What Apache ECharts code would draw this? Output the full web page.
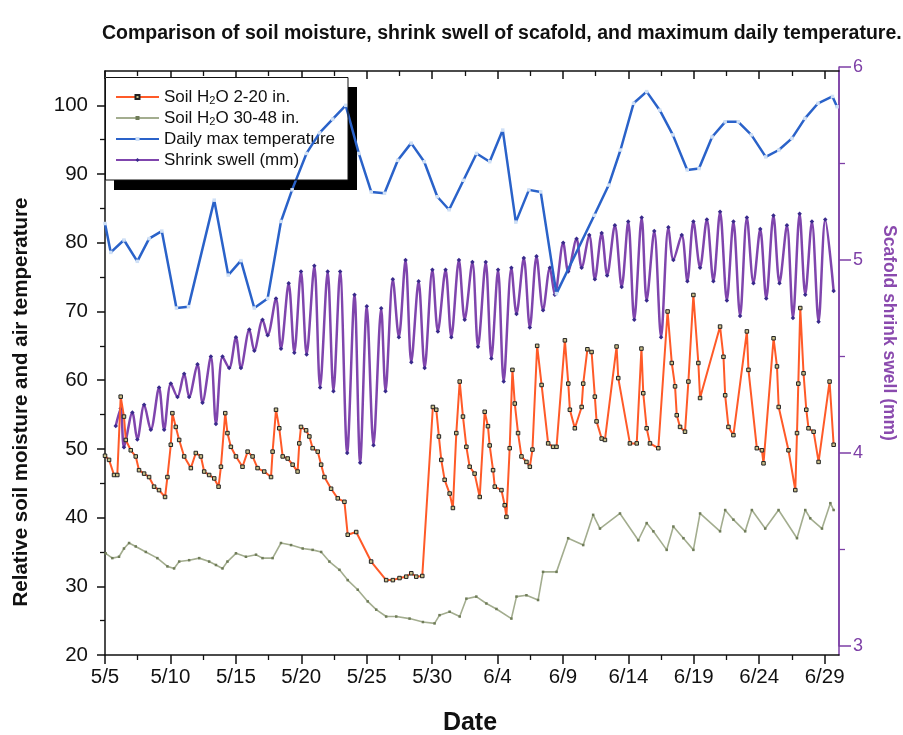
<!DOCTYPE html>
<html>
<head>
<meta charset="utf-8">
<script src="https://cdn.jsdelivr.net/npm/echarts@6/dist/echarts.min.js"></script>
<style>html,body{margin:0;padding:0;background:#fff;}#c{width:903px;height:735px;}</style>
</head>
<body>
<div id="c"></div>
<script>
// ---- tick labels ----
const xTickDays = [0,5,10,15,20,25,30,35,40,45,50,55];
const xTickLabels = ['5/5','5/10','5/15','5/20','5/25','5/30','6/4','6/9','6/14','6/19','6/24','6/29'];
const xMinorDays = [2.5,7.5,12.5,17.5,22.5,27.5,32.5,37.5,42.5,47.5,52.5];
const leftTicks = [20,30,40,50,60,70,80,90,100];
const leftMinor = [25,35,45,55,65,75,85,95];
const rightTicks = [3,4,5,6];
const rightMinor = [3.5,4.5,5.5];

// ---- series names ----
const names = ['Soil H2O 2-20 in.','Soil H2O 30-48 in.','Daily max temperature','Shrink swell (mm)'];

// ---- Soil H2O 2-20 in. (days after 5/5, relative %) ----
const shallowDays = [0,0.31,0.69,0.94,1.2,1.45,1.59,1.97,2.35,2.6,2.99,3.37,3.75,4.13,4.59,4.77,5.03,5.15,5.41,5.67,6.05,6.56,6.94,7.33,7.58,7.96,8.35,8.68,8.86,9.19,9.36,9.62,10.01,10.51,10.9,11.28,11.66,12.17,12.69,12.81,13.07,13.32,13.58,13.96,14.34,14.72,14.85,14.98,15.37,15.62,15.87,16.26,16.52,16.77,17.28,17.79,18.3,18.55,19.2,20.34,21.49,22.0,22.51,23.02,23.41,23.79,24.25,25.06,25.32,25.52,25.7,25.96,26.34,26.59,26.85,27.11,27.36,27.62,27.87,28.25,28.64,29.02,29.27,29.4,29.66,29.79,30.3,30.55,30.68,30.93,31.14,31.32,31.57,31.83,32.21,32.47,32.67,33.03,33.37,33.87,34.25,34.51,35.15,35.41,35.53,35.91,36.43,36.55,36.87,37.19,37.44,37.57,37.96,38.21,39.1,39.23,40.12,40.64,41.0,41.14,41.4,41.65,42.29,43.0,43.32,43.57,43.7,43.95,44.33,44.59,44.97,45.35,45.48,47.01,47.27,47.4,47.65,48.03,49.06,49.18,49.82,50.21,50.33,51.1,51.36,51.49,52.24,52.76,52.89,52.99,53.14,53.39,53.6,53.77,54.16,54.54,55.38,55.69];
const shallowVals = [49.0,48.4,46.2,46.2,57.6,54.7,51.3,49.8,48.9,46.9,46.4,45.9,44.5,44.0,43.0,45.9,50.6,55.2,53.2,51.3,48.9,47.2,49.4,48.9,46.7,46.2,45.7,44.5,47.4,55.2,52.3,50.3,48.9,47.4,49.6,48.9,47.2,46.7,45.9,49.6,55.7,53.0,48.9,48.6,47.7,46.7,50.8,53.2,52.7,51.8,50.1,49.6,47.7,45.9,44.2,42.8,42.3,37.5,37.9,33.6,30.9,30.9,31.2,31.4,31.9,31.4,31.5,56.1,55.7,51.8,48.4,45.5,43.5,41.4,52.3,59.8,54.7,50.3,47.4,46.4,43.0,55.4,53.3,50.5,46.9,44.5,44.0,41.8,40.1,50.1,61.5,56.6,52.3,48.9,48.1,47.4,49.9,65.0,59.3,50.8,50.3,50.3,65.8,59.5,55.7,53.0,56.1,59.5,64.5,64.1,57.6,54.0,51.5,51.3,64.9,60.3,50.8,50.8,64.6,58.1,53.0,50.8,50.1,70.0,62.5,59.1,54.9,53.2,52.5,59.8,72.4,62.5,57.4,67.8,63.4,57.8,53.2,52.0,67.1,61.5,50.1,49.8,47.9,66.1,62.0,56.1,49.8,44.0,52.3,59.5,70.5,61.0,55.7,53.0,52.5,48.1,59.8,50.6];

// ---- Soil H2O 30-48 in. ----
const deepDays = [0.05,0.56,1.07,1.45,1.84,2.35,3.12,4.0,4.77,5.28,5.67,6.43,7.2,7.96,8.48,8.98,9.36,10.01,10.77,11.54,12.04,12.81,13.45,14.22,15.11,15.87,16.52,17.15,17.92,18.55,19.32,20.08,20.73,21.49,22.26,23.28,24.3,25.19,25.57,26.34,27.11,27.62,28.38,29.15,29.92,31.06,31.45,32.21,33.1,33.48,34.51,35.4,36.55,37.31,37.83,39.36,40.76,41.4,41.91,42.93,43.44,44.21,44.97,45.48,47.01,47.4,48.03,48.93,49.44,50.46,51.48,52.89,53.52,53.9,54.8,55.44,55.69];
const deepVals = [34.8,34.1,34.3,35.5,36.3,35.8,35.0,34.1,32.9,32.6,33.6,33.8,34.1,33.6,33.1,32.6,33.6,34.8,34.3,34.6,34.1,34.1,36.3,36.0,35.5,35.3,35.0,33.6,32.4,30.9,29.5,27.8,26.6,25.6,25.6,25.3,24.8,24.6,25.8,26.3,25.6,28.2,28.5,27.5,26.7,25.3,28.5,28.7,28.0,32.1,32.1,37.0,36.0,40.4,38.4,40.6,36.7,39.2,38.0,35.3,38.7,37.0,35.3,40.6,38.0,41.1,39.7,38.0,41.1,38.4,41.1,37.0,41.1,39.9,38.4,42.1,41.1];

// ---- Daily max temperature ----
const tempDays = [0,0.44,1.45,2.47,3.37,4.34,5.46,6.38,8.35,9.42,10.39,11.41,12.43,13.45,14.3,15.4,16.4,17.4,18.4,19.4,20.35,21.36,22.38,23.4,24.4,25.4,26.3,27.4,28.4,29.4,30.4,31.4,32.4,33.3,34.5,37.4,38.5,39.4,40.4,41.4,42.4,43.4,44.5,45.4,46.4,47.4,48.4,49.4,50.5,51.5,52.5,53.5,54.5,55.6,55.95];
const tempVals = [82.8,78.6,80.4,77.3,80.6,81.7,70.5,70.7,86.2,75.3,77.4,70.5,71.9,83.1,87.7,93,96,98,100,93,87.4,87.2,92.0,94.5,91.8,86.7,84.8,89.1,93.0,91.8,96.4,83.0,87.7,87.4,72.6,84.0,88.4,93.5,100.3,102.0,99.3,95.7,90.6,90.8,95.4,97.6,97.6,95.7,92.5,93.5,95.2,98.1,100.3,101.3,99.8];

// ---- Shrink swell (mm) ----
const swellDays = [0.82,1.2,1.45,2.09,2.47,2.99,3.5,4.13,4.52,5.03,5.54,6.05,6.43,7.07,7.45,8.09,8.48,8.98,9.49,10.01,10.39,11.03,11.41,12.04,12.43,13.07,13.45,14.04,14.47,14.98,15.41,16.0,16.44,17.02,17.46,17.97,18.51,19.07,19.5,20.01,20.52,21.11,21.44,22.0,22.46,22.97,23.41,23.97,24.43,25.02,25.44,26.03,26.47,27.05,27.49,28.08,28.51,29.1,29.53,30.04,30.47,31.06,31.45,32.01,32.47,32.98,33.48,34.0,34.38,35.02,35.4,36.04,36.43,37.01,37.44,37.96,38.38,38.97,39.49,39.99,40.45,41.02,41.4,41.98,42.5,43.06,43.44,44.08,44.51,44.97,45.48,46.0,46.5,47.01,47.53,48.03,48.54,49.06,49.56,50.08,50.54,51.09,51.55,52.12,52.58,53.09,53.52,54.03,54.54,55.05,55.69];
const swellVals = [4.14,4.23,4.03,4.21,4.07,4.25,4.12,4.34,4.12,4.36,4.29,4.41,4.29,4.46,4.26,4.50,4.15,4.50,4.44,4.60,4.44,4.64,4.53,4.69,4.61,4.80,4.54,4.88,4.52,4.94,4.51,4.97,4.34,4.94,4.32,4.94,4.00,4.82,3.95,4.76,4.04,4.75,4.32,4.90,4.60,5.00,4.47,4.89,4.44,4.95,4.63,4.95,4.60,5.00,4.69,4.99,4.55,4.99,4.49,4.95,4.37,4.96,4.72,5.01,4.65,5.02,4.74,4.96,4.82,5.09,4.94,5.11,4.96,5.13,4.90,5.14,4.92,5.18,4.86,5.20,4.69,5.22,4.79,5.15,4.60,5.17,5.00,5.13,4.89,5.20,4.96,5.21,4.89,5.25,4.79,5.20,4.71,5.22,4.88,5.16,4.80,5.23,4.88,5.18,4.70,5.24,4.82,5.20,4.68,5.21,4.84];

const zip = (a, b) => a.map((v, i) => [v, b[i]]);
const FONT = "'Liberation Sans', Arial, sans-serif";
const PURPLE = '#7d3fa6';
const X_MIN = 0, X_MAX = 56.1;

function xAx(extra) {
  return Object.assign({
    type: 'value', min: X_MIN, max: X_MAX, gridIndex: 0,
    splitLine: { show: false },
    axisLine: { show: false, onZero: false },
    axisLabel: { show: false },
    axisTick: { show: false }
  }, extra);
}
function yAx(extra) {
  return Object.assign({
    type: 'value', gridIndex: 0,
    splitLine: { show: false },
    axisLine: { show: false, onZero: false },
    axisLabel: { show: false },
    axisTick: { show: false }
  }, extra);
}

const chart = echarts.init(document.getElementById('c'), null, { renderer: 'canvas' });
chart.setOption({
  animation: false,
  backgroundColor: '#ffffff',
  textStyle: { fontFamily: FONT },
  title: {
    text: 'Comparison of soil moisture, shrink swell of scafold, and maximum daily temperature.',
    left: 97, top: 19,
    textStyle: { fontFamily: FONT, fontSize: 19.5, fontWeight: 'bold', color: '#111' }
  },
  grid: [
    { left: 105, right: 64, top: 71, bottom: 80 },
    { left: 105, right: 64, top: 67, bottom: 89 }
  ],
  xAxis: [
    xAx({ position: 'bottom',
      axisLine: { show: true, onZero: false, lineStyle: { color: '#111', width: 1.5 } },
      axisTick: { show: true, length: 9, customValues: xTickDays, lineStyle: { color: '#111', width: 1.5 } },
      axisLabel: { show: true, customValues: xTickDays, margin: 12, fontSize: 20.5, color: '#111', fontFamily: FONT,
        formatter: v => { const i = xTickDays.indexOf(Math.round(v)); return i >= 0 ? xTickLabels[i] : ''; } } }),
    xAx({ position: 'bottom',
      axisTick: { show: true, length: 5, customValues: xMinorDays, lineStyle: { color: '#111', width: 1.3 } } }),
    xAx({ position: 'top',
      axisLine: { show: true, onZero: false, lineStyle: { color: '#111', width: 1.5 } },
      axisTick: { show: true, inside: true, length: 8, customValues: xTickDays, lineStyle: { color: '#111', width: 1.5 } } }),
    xAx({ position: 'top',
      axisTick: { show: true, inside: true, length: 5, customValues: xMinorDays, lineStyle: { color: '#111', width: 1.3 } } }),
    xAx({ gridIndex: 1, show: false })
  ],
  yAxis: [
    yAx({ position: 'left', min: 20, max: 105,
      axisLine: { show: true, onZero: false, lineStyle: { color: '#111', width: 1.5 } },
      axisTick: { show: true, length: 8, customValues: leftTicks, lineStyle: { color: '#111', width: 1.5 } },
      axisLabel: { show: true, customValues: leftTicks, margin: 17, fontSize: 20.5, color: '#111', fontFamily: FONT } }),
    yAx({ position: 'left', min: 20, max: 105,
      axisTick: { show: true, length: 5, customValues: leftMinor, lineStyle: { color: '#111', width: 1.3 } } }),
    yAx({ position: 'right', min: 0, max: 1,
      axisLine: { show: true, onZero: false, lineStyle: { color: PURPLE, width: 1.5 } } }),
    yAx({ gridIndex: 1, position: 'right', min: 3, max: 6,
      axisLine: { show: true, onZero: false, lineStyle: { color: PURPLE, width: 1.5 } },
      axisTick: { show: true, length: 12, customValues: rightTicks, lineStyle: { color: PURPLE, width: 1.5 } },
      axisLabel: { show: true, customValues: rightTicks, margin: 14, fontSize: 18, color: PURPLE, fontFamily: FONT } }),
    yAx({ gridIndex: 1, position: 'right', min: 3, max: 6,
      axisTick: { show: true, length: 6, customValues: rightMinor, lineStyle: { color: PURPLE, width: 1.3 } } })
  ],
  legend: {
    orient: 'vertical', left: 105, top: 77,
    itemWidth: 43, itemHeight: 5, itemGap: 1,
    padding: [10, 13, 10, 10],
    backgroundColor: '#fff', borderWidth: 0,
    shadowColor: '#000', shadowBlur: 0, shadowOffsetX: 9, shadowOffsetY: 10,
    data: names,
    formatter: n => n.replace('H2O', 'H{sub|2}O'),
    textStyle: { fontFamily: FONT, fontSize: 17, lineHeight: 20, color: '#111',
      rich: { sub: { fontFamily: FONT, fontSize: 11, color: '#111', padding: [8, 0, 0, 0] } } }
  },
  graphic: [
    { type: 'rect', z: 100, silent: true,
      shape: { x: 105.5, y: 77.5, width: 242.5, height: 102.5 },
      style: { fill: 'none', stroke: '#111', lineWidth: 1 } },
    { type: 'text', x: 21, y: 402, rotation: Math.PI / 2,
      style: { text: 'Relative soil moisture and air temperature', font: "bold 20.5px " + FONT, fill: '#111', align: 'center', verticalAlign: 'middle' } },
    { type: 'text', x: 889, y: 333, rotation: -Math.PI / 2,
      style: { text: 'Scafold shrink swell (mm)', font: "bold 17.5px " + FONT, fill: '#8a4aae', align: 'center', verticalAlign: 'middle' } },
    { type: 'text', x: 470, y: 723,
      style: { text: 'Date', font: "bold 25px " + FONT, fill: '#111', align: 'center', verticalAlign: 'middle' } }
  ],
  series: [
    { name: names[3], type: 'line', xAxisIndex: 4, yAxisIndex: 3, z: 2,
      data: zip(swellDays, swellVals), smooth: 0.3,
      symbol: 'diamond', symbolSize: 4.5,
      lineStyle: { color: '#7f45ad', width: 2.5 }, itemStyle: { color: '#3a2a8c' } },
    { name: names[0], type: 'line', xAxisIndex: 0, yAxisIndex: 0, z: 3,
      data: zip(shallowDays, shallowVals),
      symbol: 'rect', symbolSize: 3.5,
      lineStyle: { color: '#ff5a28', width: 2 }, itemStyle: { color: '#c9c08a', borderColor: '#222', borderWidth: 1 } },
    { name: names[1], type: 'line', xAxisIndex: 0, yAxisIndex: 0, z: 3,
      data: zip(deepDays, deepVals),
      symbol: 'rect', symbolSize: 2.5,
      lineStyle: { color: '#a3ad8f', width: 1.6 }, itemStyle: { color: '#6f7c58' } },
    { name: names[2], type: 'line', xAxisIndex: 0, yAxisIndex: 0, z: 4,
      data: zip(tempDays, tempVals),
      symbol: 'rect', symbolSize: 3.5,
      lineStyle: { color: '#2a62c9', width: 2.5 }, itemStyle: { color: '#cfe0f6' } }
  ]
});
</script>
</body>
</html>
